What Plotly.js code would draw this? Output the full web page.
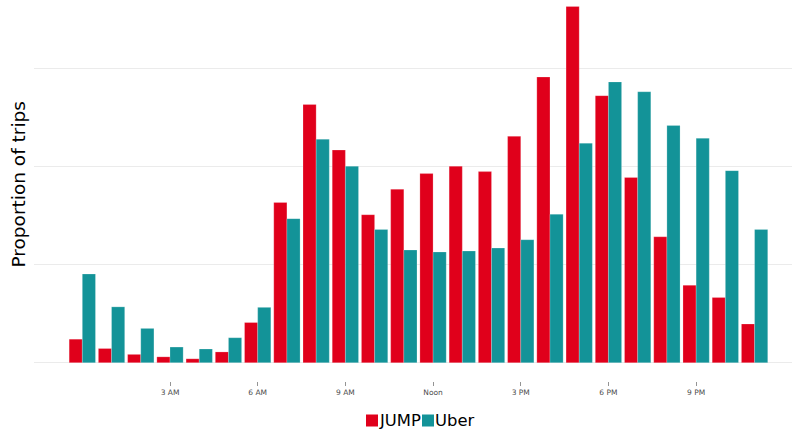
<!DOCTYPE html>
<html>
<head>
<meta charset="utf-8">
<script src="https://cdn.plot.ly/plotly-3.0.1.min.js"></script>
<style>html,body{margin:0;padding:0;background:#fff;}#chart{width:792px;height:433px;}</style>
</head>
<body>
<div id="chart"></div>
<script>
const hours = [0,1,2,3,4,5,6,7,8,9,10,11,12,13,14,15,16,17,18,19,20,21,22,23];
const jump = [0.0048,0.0029,0.0017,0.0012,0.0008,0.0022,0.0082,0.0327,0.0527,0.0434,0.0302,0.0354,0.0386,0.0401,0.0390,0.0462,0.0583,0.0727,0.0545,0.0378,0.0257,0.0158,0.0133,0.0079];
const uber = [0.0181,0.0114,0.0070,0.0032,0.0028,0.0051,0.0113,0.0294,0.0456,0.0401,0.0272,0.0230,0.0226,0.0228,0.0234,0.0251,0.0303,0.0448,0.0573,0.0553,0.0484,0.0458,0.0392,0.0272];
const tickHours = [3,6,9,12,15,18,21];
const tickLabels = ['3 AM','6 AM','9 AM','Noon','3 PM','6 PM','9 PM'];
const gridVals = [0,0.02,0.04,0.06];
const seriesNames = ['JUMP','Uber'];
const seriesColors = ['#E0001B','#139398'];

const W = 792, H = 433, L = 34, R = 0, T = 5, B = 52;
const pw = W - L - R, ph = H - T - B;
const px = v => (v - L) / pw;
const py = v => (H - B - v) / ph;

const traces = [jump, uber].map((vals, i) => ({
  type:'bar', name:seriesNames[i], x:hours, y:vals,
  marker:{color:seriesColors[i], line:{color:'rgba(255,255,255,0.35)', width:0.6}},
  hoverinfo:'x+y'
}));

// legend drawn compactly (swatch directly against label, as in the reference)
const legendX = [366, 422];
const shapes = [], annotations = [];
seriesNames.forEach((n, i) => {
  shapes.push({type:'rect', xref:'paper', yref:'paper', x0:px(legendX[i]), x1:px(legendX[i]+12),
               y0:py(426.5), y1:py(414.5), fillcolor:seriesColors[i], line:{width:0}});
  annotations.push({text:n, xref:'paper', yref:'paper', x:px(legendX[i]+12.5), xanchor:'left',
                    y:py(420.5), yanchor:'middle', showarrow:false, font:{size:16.4, color:'#000'},
                    borderpad:0, xshift:-1});
});
annotations.push({text:'Proportion of trips', xref:'paper', yref:'paper', x:px(18), xanchor:'center',
                  y:py(184.5), yanchor:'middle', textangle:-90, showarrow:false, font:{size:18.5, color:'#000'}});

const layout = {
  width:W, height:H,
  margin:{l:L, r:R, t:T, b:B, autoexpand:false},
  paper_bgcolor:'#fff', plot_bgcolor:'#fff',
  barmode:'group', bargap:0.1, bargroupgap:0,
  font:{family:'DejaVu Sans, sans-serif', color:'#000'},
  xaxis:{range:[-1.653,24.28], tickmode:'array', tickvals:tickHours, ticktext:tickLabels,
         showgrid:false, zeroline:false, showline:false, ticks:'outside', ticklen:4, tickwidth:0.6, tickcolor:'#4d4d4d',
         tickfont:{size:7.5, color:'#4d4d4d'}},
  yaxis:{range:[-0.00373,0.0730], tickmode:'array', tickvals:gridVals, showticklabels:false,
         showgrid:true, gridcolor:'#ebebeb', gridwidth:1, zeroline:false, showline:false, ticks:''},
  showlegend:false,
  shapes:shapes,
  annotations:annotations
};
Plotly.newPlot('chart', traces, layout, {displayModeBar:false, staticPlot:true});
</script>
</body>
</html>
